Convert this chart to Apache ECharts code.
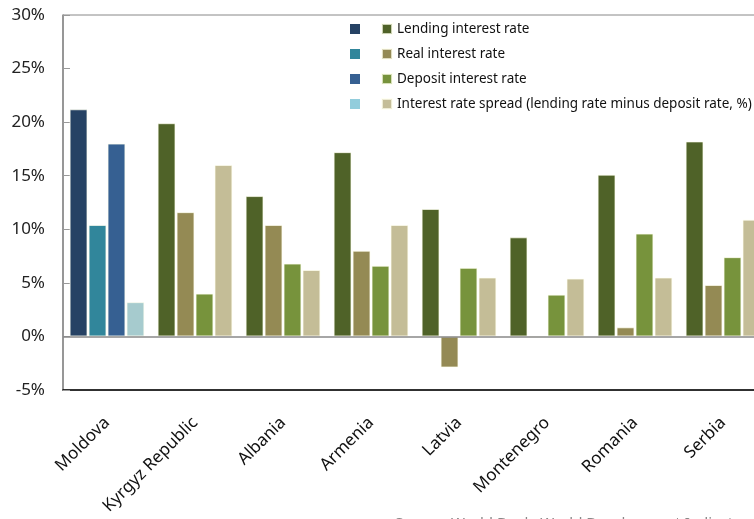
<!DOCTYPE html>
<html>
<head>
<meta charset="utf-8">
<script src="https://cdn.jsdelivr.net/npm/echarts@6/dist/echarts.min.js"></script>
<style>
	html, body { margin: 0; padding: 0; background: #fff; }
	#chart { width: 754px; height: 519px; }
</style>
</head>
<body>
<div id="chart"></div>
<script>
var countries = ['Moldova', 'Kyrgyz Republic', 'Albania', 'Armenia', 'Latvia', 'Montenegro', 'Romania', 'Serbia'];
var lending = [21.2, 19.9, 13.1, 17.2, 11.9, 9.25, 15.1, 18.2];
var real = [10.4, 11.6, 10.4, 8.0, -2.9, -0.1, 0.85, 4.8];
var deposit = [18.0, 4.0, 6.8, 6.6, 6.4, 3.9, 9.6, 7.4];
var spread = [3.2, 16.0, 6.2, 10.4, 5.5, 5.4, 5.5, 10.9];
var yTicks = [-5, 0, 5, 10, 15, 20, 25, 30];

var names = ['Lending interest rate', 'Real interest rate', 'Deposit interest rate',
	'Interest rate spread (lending rate minus deposit rate, %)'];
var colors = ['#4F6228', '#948A54', '#77933C', '#C4BD97'];
var moldovaColors = ['#264264', '#31869B', '#366092', '#A6CBCE'];
var moldovaLegend = ['#264264', '#31869B', '#366092', '#92CDDC'];

var font = '"Noto Sans", sans-serif';

function barSeries(idx, values) {
	var s = {
		name: names[idx],
		type: 'bar',
		barGap: '6%',
		barCategoryGap: '15%',
		itemStyle: {
			color: colors[idx],
			borderColor: 'rgba(255,255,240,0.7)',
			borderWidth: 1
		},
		data: values.map(function (v, i) {
			if (i == 0) {
				return { value: v, itemStyle: { color: moldovaColors[idx] } };
			}
			return v;
		})
	};
	if (idx == 0) {
		s.markLine = {
			silent: true,
			symbol: 'none',
			label: { show: false },
			lineStyle: { color: '#888', width: 1.5, type: 'solid' },
			data: [{ yAxis: 0 }]
		};
	}
	return s;
}

var series = [
	barSeries(0, lending),
	barSeries(1, real),
	barSeries(2, deposit),
	barSeries(3, spread)
];
// empty series only for the Moldova colour squares in the legend
for (var k = 0; k < 4; k++) {
	series.push({
		name: 'm' + k,
		type: 'line',
		data: [],
		itemStyle: { color: moldovaLegend[k] }
	});
}

var myChart = echarts.init(document.getElementById('chart'));
option = {
	animation: false,
	graphic: [{
		type: 'text',
		left: 395,
		top: 516,
		style: {
			text: 'Source: World Bank, World Development Indicators',
			font: '15px ' + font,
			fill: '#888'
		}
	}],
	legend: [{
		orient: 'vertical',
		left: 345,
		top: 19,
		icon: 'rect',
		itemWidth: 10,
		itemHeight: 10,
		itemGap: 15,
		selectedMode: false,
		formatter: function () { return ''; },
		textStyle: { fontSize: 8, lineHeight: 10, fontFamily: font },
		data: ['m0', 'm1', 'm2', 'm3']
	}, {
		orient: 'vertical',
		left: 376,
		top: 17,
		icon: 'rect',
		itemWidth: 10,
		itemHeight: 10,
		itemGap: 11,
		selectedMode: false,
		textStyle: { fontSize: 13.5, lineHeight: 14, color: '#111', fontFamily: font },
		data: names
	}],
	grid: {
		left: 63,
		top: 15,
		width: 704,
		height: 375,
		outerBoundsMode: 'none',
		containLabel: false,
		show: true,
		borderColor: '#888',
		borderWidth: 1
	},
	xAxis: {
		type: 'category',
		data: countries,
		axisLine: { onZero: false, lineStyle: { color: '#000', width: 1.5 } },
		axisTick: { show: false },
		axisLabel: {
			rotate: 45,
			margin: 30,
			interval: 0,
			color: '#111',
			fontSize: 17,
			fontFamily: font
		}
	},
	yAxis: {
		type: 'value',
		min: yTicks[0],
		max: yTicks[yTicks.length - 1],
		interval: 5,
		splitLine: { show: false },
		axisLine: { show: true, lineStyle: { color: '#888', width: 1.5 } },
		axisTick: { show: true, inside: true, length: 7, lineStyle: { color: '#999' } },
		axisLabel: {
			margin: 18,
			color: '#222',
			fontSize: 17,
			fontFamily: font,
			formatter: function (v) { return v + '%'; }
		}
	},
	series: series
};
myChart.setOption(option);
</script>
</body>
</html>
